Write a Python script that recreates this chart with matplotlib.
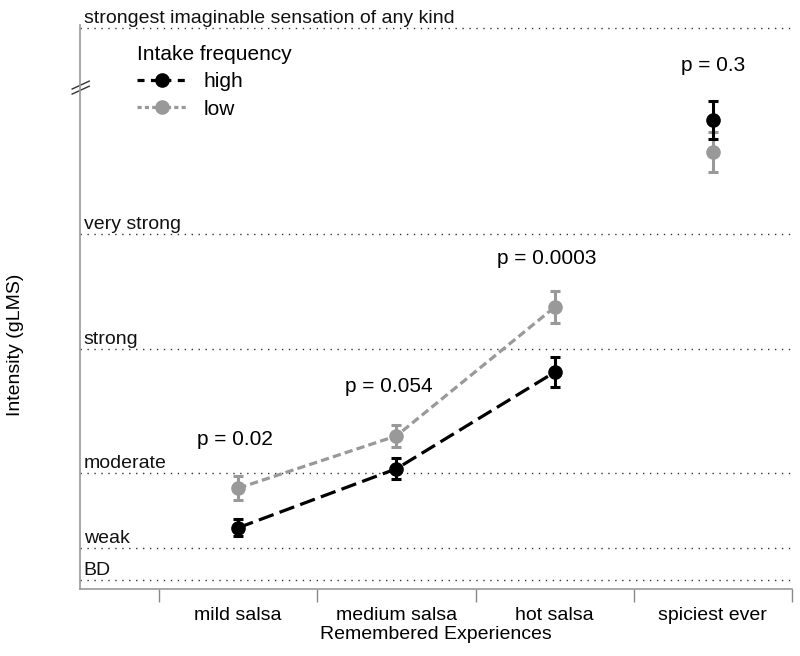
import numpy as np
import matplotlib
matplotlib.use("Agg")
import matplotlib.pyplot as plt

plt.rcParams['font.family'] = ['Liberation Sans', 'DejaVu Sans']

categories = ["mild salsa", "medium salsa", "hot salsa", "spiciest ever"]
high_mean = [9.2, 18.0, 32.4, 70.0]
high_err = [1.3, 1.6, 2.2, 2.85]
low_mean = [15.1, 22.9, 42.1, 65.2]
low_err = [1.8, 1.65, 2.4, 3.0]
p_labels = ["p = 0.02", "p = 0.054", "p = 0.0003", "p = 0.3"]

level_names = ["BD", "weak", "moderate", "strong", "very strong",
               "strongest imaginable sensation of any kind"]
level_values = [1.4, 6.2, 17.4, 35.9, 53.0, 83.7]

fig = plt.figure(figsize=(8, 6.56), dpi=100)
ax = fig.add_axes([0.1, 0.1015, 0.89, 0.8605])

x = np.arange(len(categories)) + 0.5
n_line = 3  # spiciest ever is not connected

# gLMS reference lines
for name, val in zip(level_names, level_values):
    ax.axhline(val, color="#333333", lw=1.0, linestyle=(0, (1, 4)), zorder=1)
    ax.annotate(name, xy=(0.005, val), xycoords=ax.get_yaxis_transform(),
                xytext=(0, 3.5), textcoords="offset points",
                ha="left", va="baseline", fontsize=14, color="#111111")

# connecting dashed lines
ax.plot(x[:n_line], high_mean[:n_line], color="black", lw=2.3,
        dashes=(4.9, 2.0), zorder=3)
ax.plot(x[:n_line], low_mean[:n_line], color="#999999", lw=2.3,
        dashes=(2.6, 1.3), zorder=2)

# error bars + markers
ax.errorbar(x, low_mean, yerr=low_err, fmt="o", color="#999999", ms=9.5,
            elinewidth=2.2, capsize=3.6, capthick=2.2, zorder=4)
ax.errorbar(x, high_mean, yerr=high_err, fmt="o", color="black", ms=9.5,
            elinewidth=2.2, capsize=3.6, capthick=2.2, zorder=5)

# legend proxies
h_high, = ax.plot([], [], color="black", lw=2.3, dashes=(2.2, 2.0),
                  marker="o", ms=9.5)
h_low, = ax.plot([], [], color="#999999", lw=2.3, dashes=(1.3, 1.0),
                 marker="o", ms=9.5)
leg = ax.legend([h_high, h_low], ["high", "low"], title="Intake frequency",
                loc="upper left", bbox_to_anchor=(0.148, 0.96),
                bbox_transform=fig.transFigure, frameon=False,
                fontsize=15, title_fontsize=15, handlelength=2.4,
                handletextpad=0.8, labelspacing=0.4, alignment="left")

# p-value annotations
p_x = [0.48, 1.45, 2.45, 3.5]
p_y = [22.3, 30.2, 49.4, 78.1]
for px, py, lab in zip(p_x, p_y, p_labels):
    ax.text(px, py, lab, ha="center", va="center", fontsize=15)

ax.set_xlim(-0.5, 4)
ax.set_ylim(0, 84.2)

ax.set_xticks(np.arange(0, 5))
ax.set_xticklabels([])
ax.set_xticks(x, minor=True)
ax.set_xticklabels(categories, minor=True, fontsize=14)
ax.tick_params(axis="x", which="major", length=9.5, width=1, color="#888888",
               direction="out")
ax.tick_params(axis="x", which="minor", length=0, pad=13)
ax.set_yticks([])

for side in ["top", "right"]:
    ax.spines[side].set_visible(False)
for side in ["left", "bottom"]:
    ax.spines[side].set_color("#999999")
    ax.spines[side].set_linewidth(1.2)

ax.set_xlabel("Remembered Experiences", fontsize=14)
ax.xaxis.set_label_coords(0.5, -0.064)
ax.set_ylabel("Intensity (gLMS)", fontsize=14)
ax.yaxis.set_label_coords(-0.078, 0.433)

# axis break mark
brk_y = 0.8935
for dy in (0.0, -0.009):
    ax.plot([-0.011, 0.013], [brk_y + dy - 0.007, brk_y + dy + 0.007],
            transform=ax.transAxes, color="#333333", lw=1.0, clip_on=False)

fig.savefig("out.png", dpi=100)
